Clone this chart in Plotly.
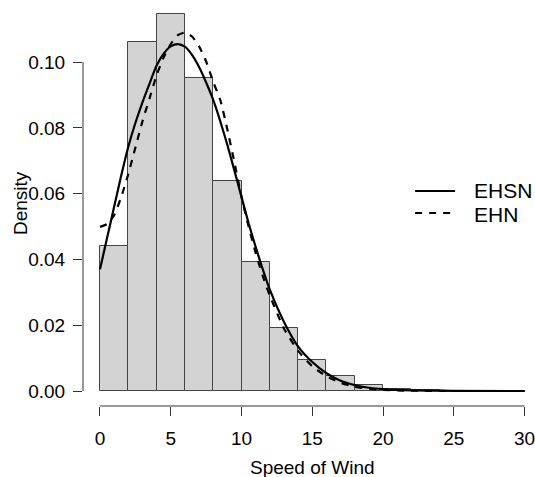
import plotly.graph_objects as go

# Histogram (bin edges every 2 units, density heights)
bin_left = [0, 2, 4, 6, 8, 10, 12, 14, 16, 18, 20, 22, 24, 26, 28]
bin_width = 2
density = [0.0440, 0.1062, 0.1146, 0.0952, 0.0638, 0.0391, 0.0192, 0.0095,
           0.0047, 0.0019, 0.0007, 0.0002, 0.0001, 0.00005, 0.00003]

# Fitted density curves
curve_x = [0, 0.5, 1, 1.5, 2, 2.5, 3, 3.5, 4, 4.5, 5, 5.5, 6, 6.5, 7, 7.5, 8,
           8.5, 9, 9.5, 10, 10.5, 11, 11.5, 12, 13, 14, 15, 16, 17, 18, 19,
           20, 22, 25, 30]
ehsn = [0.037, 0.0465, 0.056, 0.0655, 0.0743, 0.0815, 0.0878, 0.0935, 0.0990,
        0.1026, 0.1048, 0.1055, 0.1047, 0.1022, 0.0985, 0.0938, 0.0885,
        0.082, 0.0748, 0.067, 0.059, 0.051, 0.0438, 0.037, 0.0308, 0.021,
        0.0135, 0.0088, 0.0054, 0.0031, 0.0018, 0.0010, 0.0006, 0.0002,
        0.00003, 0.0]
ehn = [0.0499, 0.0508, 0.0535, 0.059, 0.066, 0.074, 0.082, 0.089, 0.096,
       0.1015, 0.1055, 0.1082, 0.1090, 0.1078, 0.1048, 0.1002, 0.0940,
       0.0885, 0.0795, 0.0695, 0.0590, 0.0500, 0.0420, 0.0350, 0.0290,
       0.0190, 0.0122, 0.0075, 0.0045, 0.0025, 0.0013, 0.0007, 0.0003,
       0.0001, 0.0, 0.0]

x_ticks = [0, 5, 10, 15, 20, 25, 30]
y_ticks = [0.00, 0.02, 0.04, 0.06, 0.08, 0.10]
series_names = ["EHSN", "EHN"]

FONT = "Liberation Sans, Arial, Helvetica, sans-serif"
W, H = 535, 477
ML, MR, MT, MB = 82.5, 0, 1, 71
pw, ph = W - ML - MR, H - MT - MB

def px2paper_x(px):
    return (px - ML) / pw

def px2paper_y(py):
    return (H - MB - py) / ph

fig = go.Figure()
fig.add_trace(go.Bar(
    x=[b + bin_width / 2 for b in bin_left], y=density, width=bin_width,
    marker=dict(color="#d3d3d3", line=dict(color="#444444", width=1)),
    showlegend=False, hoverinfo="skip"))
fig.add_trace(go.Scatter(x=curve_x, y=ehsn, mode="lines", name=series_names[0],
                         line=dict(color="black", width=2.2, shape="spline", smoothing=0.6),
                         showlegend=False))
fig.add_trace(go.Scatter(x=curve_x, y=ehn, mode="lines", name=series_names[1],
                         line=dict(color="black", width=2.2, dash="7px,7px",
                                   shape="spline", smoothing=0.6),
                         showlegend=False))

axis_col = "#333333"
fig.update_layout(
    width=W, height=H, margin=dict(l=ML, r=MR, t=MT, b=MB),
    plot_bgcolor="white", paper_bgcolor="white", bargap=0,
    font=dict(family=FONT, size=19, color="black"),
    xaxis=dict(range=[-1.2, (W - MR - ML) / 14.17 - 1.2], tickvals=x_ticks,
               ticks="outside", ticklen=9, tickcolor=axis_col, tickwidth=1,
               showgrid=False, zeroline=False, showline=False,
               tickfont=dict(size=19), ticklabelstandoff=6,
               ticklabeloverflow="allow"),
    yaxis=dict(range=[-0.00456, 0.1186], tickvals=y_ticks, tickformat=".2f",
               ticks="outside", ticklen=9, tickcolor=axis_col, tickwidth=1,
               showgrid=False, zeroline=False, showline=False,
               tickfont=dict(size=19), ticklabelstandoff=4),
)

shapes = [
    dict(type="line", xref="paper", yref="y", x0=0, x1=0, y0=y_ticks[0], y1=y_ticks[-1],
         line=dict(color=axis_col, width=1)),
    dict(type="line", xref="x", yref="paper", x0=x_ticks[0], x1=x_ticks[-1], y0=0, y1=0,
         line=dict(color=axis_col, width=1)),
    dict(type="line", xref="paper", yref="paper", x0=px2paper_x(415), x1=px2paper_x(455),
         y0=px2paper_y(191), y1=px2paper_y(191), line=dict(color="black", width=2.2)),
    dict(type="line", xref="paper", yref="paper", x0=px2paper_x(415), x1=px2paper_x(455),
         y0=px2paper_y(213), y1=px2paper_y(213),
         line=dict(color="black", width=2.2, dash="7px,7px")),
]
fig.update_layout(shapes=shapes)

annotations = [
    dict(text=series_names[0], xref="paper", yref="paper", x=px2paper_x(472),
         y=px2paper_y(190.5), xanchor="left", yanchor="middle", showarrow=False,
         font=dict(size=21)),
    dict(text=series_names[1], xref="paper", yref="paper", x=px2paper_x(472),
         y=px2paper_y(214), xanchor="left", yanchor="middle", showarrow=False,
         font=dict(size=21)),
    dict(text="Speed of Wind", xref="paper", yref="paper", x=px2paper_x(312),
         y=px2paper_y(467), xanchor="center", yanchor="middle", showarrow=False,
         font=dict(size=19)),
    dict(text="Density", xref="paper", yref="paper", x=px2paper_x(20),
         y=px2paper_y(203.5), xanchor="center", yanchor="middle", showarrow=False,
         textangle=-90, font=dict(size=19)),
]
fig.update_layout(annotations=annotations)

fig.write_html("out.html")
